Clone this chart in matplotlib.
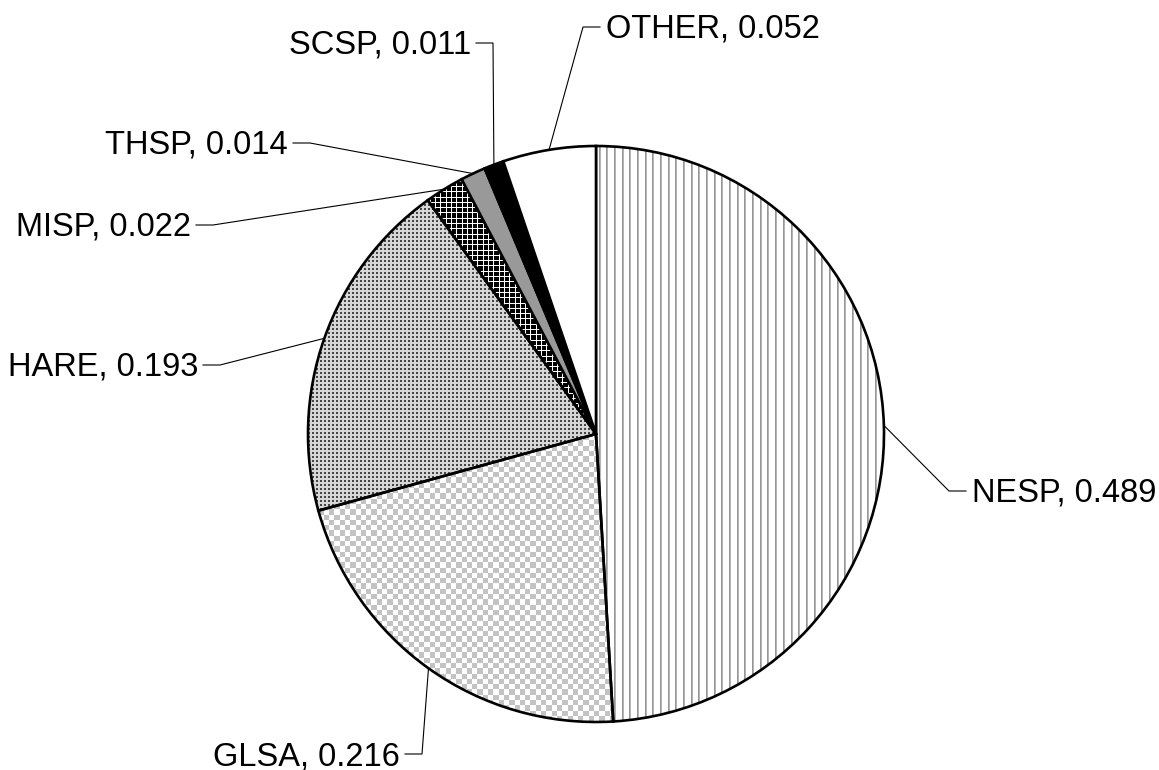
import numpy as np
import matplotlib
matplotlib.use("Agg")
import matplotlib.pyplot as plt

plt.rcParams['font.family'] = ['Liberation Sans', 'DejaVu Sans']

species = ["NESP", "GLSA", "HARE", "MISP", "THSP", "SCSP", "OTHER"]
shares = [0.489, 0.216, 0.193, 0.022, 0.014, 0.011, 0.052]

# label layout in image pixels: (elbow x, line y, text side)
label_pos = {
    "NESP": (949, 491, "left"),
    "GLSA": (422, 754, "right"),
    "HARE": (220, 365, "right"),
    "MISP": (213, 225, "right"),
    "THSP": (310, 143, "right"),
    "SCSP": (493, 43, "right"),
    "OTHER": (583, 27, "left"),
}

W, H = 1159, 770
CX, CY, R = 596, 434, 288

fig = plt.figure(figsize=(W / 100, H / 100), dpi=100)
ax = fig.add_axes([0, 0, 1, 1])

yy, xx = np.mgrid[0:H, 0:W].astype(float)


def rgb(mask_dark, dark, light):
    img = np.empty((H, W, 3))
    img[:] = np.array(light) / 255.0
    img[mask_dark] = np.array(dark) / 255.0
    return img


def vlines():
    img = np.ones((H, W, 3))
    ph = xx % 7.67
    img[ph < 1] = 150 / 255.0
    img[(ph >= 1) & (ph < 2)] = 180 / 255.0
    return img


def checker():
    m = ((np.floor(xx / 5.3) + np.floor(yy / 5.3)) % 2) == 0
    return rgb(m, (195, 195, 195), (255, 255, 255))


def dots():
    m = ((xx % 4) < 1.5) & ((yy % 4) < 1.5)
    return rgb(m, (70, 70, 70), (215, 215, 215))


def grid():
    m = ((xx % 5.3) < 1) | ((yy % 5.3) < 1)
    return rgb(~m, (0, 0, 0), (255, 255, 255))


patterns = {"NESP": vlines, "GLSA": checker, "HARE": dots, "MISP": grid}
solid = {"THSP": "#999999", "SCSP": "#000000", "OTHER": "#ffffff"}

wedges, _ = ax.pie(shares, center=(CX, H - CY), radius=R, startangle=90,
                   counterclock=False, normalize=True,
                   colors=[solid.get(s, "none") for s in species],
                   wedgeprops=dict(edgecolor="black", linewidth=1.9))

for w, name in zip(wedges, species):
    if name in patterns:
        im = ax.imshow(patterns[name](), extent=(0, W, 0, H), origin="upper",
                       interpolation="nearest", zorder=w.get_zorder() - 0.5)
        im.set_clip_path(w)

for w in wedges:
    w.set_zorder(3)

for w, name, val in zip(wedges, species, shares):
    mid = np.deg2rad((w.theta1 + w.theta2) / 2)
    px = CX + R * np.cos(mid)
    py = H - CY + R * np.sin(mid)
    ex, ly, side = label_pos[name]
    ly = H - ly
    if side == "left":
        hx = ex + 17
        tx = hx + 6
        ha = "left"
    else:
        hx = ex - 17
        tx = hx - 5
        ha = "right"
    ax.plot([px, ex, hx], [py, ly, ly], color="black", lw=0.8, zorder=4,
            solid_joinstyle="miter")
    ax.text(tx, ly - 11, f"{name}, {val:.3f}", ha=ha, va="baseline",
            fontsize=23.5, color="black", zorder=5)

ax.set_xlim(0, W)
ax.set_ylim(0, H)
ax.set_aspect("auto")
ax.axis("off")

fig.savefig("out.png", dpi=100)
